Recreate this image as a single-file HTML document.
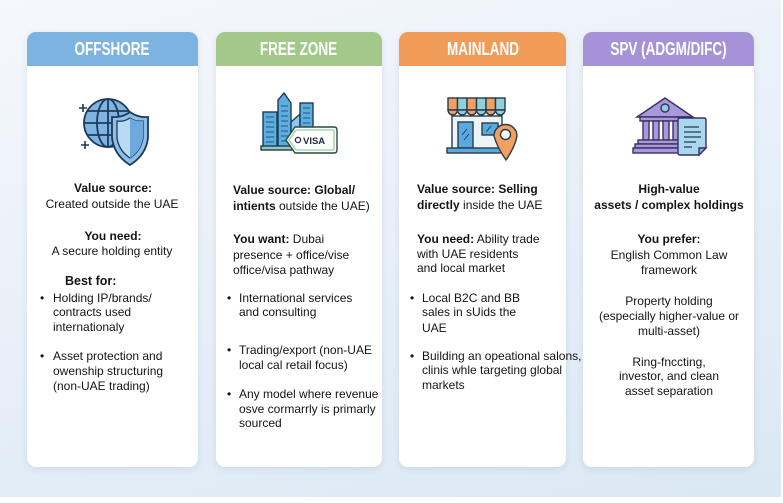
<!DOCTYPE html>
<html><head><meta charset="utf-8">
<style>
*{margin:0;padding:0;box-sizing:border-box}
html,body{width:783px;height:503px;background:#fff;overflow:hidden;font-family:"Liberation Sans",Arial,sans-serif;color:#141414}
#bg{position:absolute;left:0;top:0;width:781px;height:497px;background:linear-gradient(165deg,#f5f8fc 0%,#e9f0f8 45%,#dae8f4 100%)}
.card{position:absolute;top:32px;height:435px;background:#fff;border-radius:9px;box-shadow:0 2px 7px rgba(70,100,140,0.13);overflow:hidden}
.hd{position:absolute;left:0;top:0;width:100%;height:34px;text-align:center;color:#fff;font-weight:bold;font-size:18px;line-height:35px}
.hd span{display:inline-block;transform:scaleX(0.75);white-space:nowrap}
.t{position:absolute;font-size:12px;line-height:15px;white-space:nowrap}
.c{transform:translateX(-50%)}
b{font-weight:bold;font-size:12px}
.bu{position:absolute;font-size:12px;line-height:15px}
svg{position:absolute;left:0;top:0}
</style></head><body>
<div id="bg"></div>

<div class="card" style="left:27px;width:171px"><div class="hd" style="background:#7db3e0"><span>OFFSHORE</span></div></div>
<div class="card" style="left:216px;width:166px"><div class="hd" style="background:#a2c98a"><span>FREE ZONE</span></div></div>
<div class="card" style="left:399px;width:167px"><div class="hd" style="background:#f09b58"><span>MAINLAND</span></div></div>
<div class="card" style="left:583px;width:171px"><div class="hd" style="background:#a693d7"><span>SPV (ADGM/DIFC)</span></div></div>

<svg width="783" height="503" viewBox="0 0 783 503">
 <!-- Icon 1 globe + shield -->
 <g stroke="#1f3a57" stroke-width="1.8" fill="none">
  <circle cx="108" cy="123" r="24" fill="#7fb3e3"/>
  <ellipse cx="108" cy="123" rx="11" ry="24"/>
  <line x1="108" y1="99" x2="108" y2="147"/>
  <line x1="84" y1="123" x2="132" y2="123"/>
  <line x1="87" y1="111" x2="129" y2="111"/>
  <line x1="87" y1="135" x2="129" y2="135"/>
  <path d="M130,112 Q138,118 148,117 L148,138 Q146,155 130,165 Q114,155 112,138 L112,117 Q122,118 130,112 Z" fill="#8cc0ea"/>
  <path d="M130,118 Q136,122 143,121 L143,138 Q141,151 130,158 Q119,151 117,138 L117,121 Q124,122 130,118 Z" fill="#b9daf4" stroke-width="1.3"/>
  <path d="M130,118 L130,158 Q141,151 143,138 L143,121 Q136,122 130,118Z" fill="#6fa8dc" stroke="none"/>
  <path d="M79,108 h8 M83,104 v8 M81,145 h8 M85,141 v8" stroke-width="1.6"/>
 </g>
 <!-- Icon 2 buildings + visa -->
 <g stroke="#1f3a57" stroke-width="1.4">
  <rect x="263" y="112" width="14" height="36" fill="#5aaee0"/>
  <polygon points="278,148 278,100 284,93 291,103 291,148" fill="#5aaee0"/>
  <polygon points="291,122 300,114 300,130 291,132" fill="#8cc8ec"/>
  <rect x="300" y="103" width="13" height="45" fill="#5aaee0"/>
  <rect x="261" y="146" width="40" height="4" fill="#8fd0b0"/>
 </g>
 <g stroke="#1f3a57" stroke-width="0.8" fill="none">
  <path d="M266,117 h8 M266,122 h8 M266,127 h8 M266,132 h8 M266,137 h8 M266,142 h8"/>
  <path d="M281,106 h7 M281,111 h7 M281,116 h7 M281,121 h7 M281,126 h7 M281,131 h7 M281,136 h7 M281,141 h7"/>
  <path d="M303,108 h7 M303,113 h7 M303,118 h7 M303,123 h7"/>
 </g>
 <path d="M295,127 L334,127 Q337,127 337,130 L337,150 Q337,153 334,153 L295,153 L286,140 Z" fill="#fff" stroke="#2c4a3e" stroke-width="1.4"/>
 <path d="M296,130 L334,130 L334,150 L296,150 L289,140 Z" fill="none" stroke="#a8d8b0" stroke-width="1.6"/>
 <circle cx="298" cy="140" r="2.6" fill="none" stroke="#1f2a33" stroke-width="1.3"/>
 <text x="303" y="144" font-family="Liberation Sans, Arial, sans-serif" font-size="9.5" font-weight="bold" fill="#1f2a33">VISA</text>
 <!-- Icon 3 store -->
 <g stroke="#2a3a4a" stroke-width="1.4">
  <rect x="452" y="116" width="50" height="33" fill="#eef3f8"/>
  <rect x="458" y="122" width="15" height="26" fill="#5aaae0"/>
  <rect x="482" y="123" width="16" height="12" fill="#5aaae0"/>
  <rect x="447" y="148" width="57" height="5" fill="#5aaae0"/>
  <rect x="448" y="98" width="9.5" height="12" fill="#f0a060"/>
  <rect x="457.5" y="98" width="9.5" height="12" fill="#8fd0dc"/>
  <rect x="467" y="98" width="9.5" height="12" fill="#f0a060"/>
  <rect x="476.5" y="98" width="9.5" height="12" fill="#8fd0dc"/>
  <rect x="486" y="98" width="9.5" height="12" fill="#f0a060"/>
  <rect x="495.5" y="98" width="9.5" height="12" fill="#8fd0dc"/>
  <path d="M448,110 a4.75,5 0 0 0 9.5,0Z" fill="#f0a060"/>
  <path d="M457.5,110 a4.75,5 0 0 0 9.5,0Z" fill="#8fd0dc"/>
  <path d="M467,110 a4.75,5 0 0 0 9.5,0Z" fill="#f0a060"/>
  <path d="M476.5,110 a4.75,5 0 0 0 9.5,0Z" fill="#8fd0dc"/>
  <path d="M486,110 a4.75,5 0 0 0 9.5,0Z" fill="#f0a060"/>
  <path d="M495.5,110 a4.75,5 0 0 0 9.5,0Z" fill="#8fd0dc"/>
  <path d="M494,136 A11.5,11.5 0 1 1 517,136 Q515,147 506,160 Q497,147 494,136Z" fill="#f0a060"/>
  <circle cx="505.5" cy="134.5" r="5" fill="#fff"/>
 </g>
 <path d="M462,135 l5,-6 M464,140 l5,-6 M486,132 l5,-6" stroke="#1f3a57" stroke-width="0.9"/>
 <!-- Icon 4 bank -->
 <g stroke="#3a3060" stroke-width="1.4">
  <polygon points="637,117 665,98 693,117" fill="#a898dc"/>
  <circle cx="665" cy="108" r="4" fill="#8fd0e0"/>
  <rect x="640" y="117" width="50" height="4" fill="#a898dc"/>
  <rect x="643" y="121" width="6" height="19" fill="#a898dc"/>
  <rect x="653" y="121" width="6" height="19" fill="#a898dc"/>
  <rect x="663" y="121" width="6" height="19" fill="#a898dc"/>
  <rect x="673" y="121" width="6" height="19" fill="#a898dc"/>
  <rect x="638" y="140" width="46" height="4" fill="#a898dc"/>
  <rect x="635" y="144" width="50" height="4" fill="#a898dc"/>
  <rect x="633" y="148" width="52" height="5" fill="#a898dc"/>
  <path d="M680,118 L704,118 Q706,118 706,120 L706,148 L699,155 L680,155 Q678,155 678,153 L678,120 Q678,118 680,118Z" fill="#a8d8f0"/>
  <path d="M706,148 L699,148 L699,155Z" fill="#7fb8dc"/>
 </g>
 <path d="M684,127 h15 M684,132 h17 M684,137 h17 M684,142 h12 M684,147 h8" stroke="#2a3a4a" stroke-width="1.2"/>
</svg>

<!-- Card 1 text -->
<div class="t c" style="left:113px;top:181px"><b>Value source:</b></div>
<div class="t c" style="left:112px;top:197px">Created outside the UAE</div>
<div class="t c" style="left:113px;top:229px"><b>You need:</b></div>
<div class="t c" style="left:112px;top:244px">A secure holding entity</div>
<div class="t" style="left:65px;top:274px"><b style="font-size:12.5px">Best for:</b></div>
<div class="bu" style="left:40px;top:291px">•</div>
<div class="t" style="left:53px;top:291px">Holding IP/brands/</div>
<div class="t" style="left:53px;top:305px">contracts used</div>
<div class="t" style="left:53px;top:320px">internationaly</div>
<div class="bu" style="left:40px;top:349px">•</div>
<div class="t" style="left:53px;top:349px">Asset protection and</div>
<div class="t" style="left:53px;top:364px">owenship structuring</div>
<div class="t" style="left:53px;top:379px">(non-UAE trading)</div>

<!-- Card 2 text -->
<div class="t" style="left:233px;top:183px"><b>Value source: Global/</b></div>
<div class="t" style="left:233px;top:199px"><b>intients</b> outside the UAE)</div>
<div class="t" style="left:233px;top:232px"><b>You want:</b> Dubai</div>
<div class="t" style="left:233px;top:248px">presence + office/vise</div>
<div class="t" style="left:233px;top:263px">office/visa pathway</div>
<div class="bu" style="left:227px;top:291px">•</div>
<div class="t" style="left:239px;top:291px">International services</div>
<div class="t" style="left:239px;top:305px">and consulting</div>
<div class="bu" style="left:227px;top:343px">•</div>
<div class="t" style="left:239px;top:343px">Trading/export (non-UAE</div>
<div class="t" style="left:239px;top:358px">local cal retail focus)</div>
<div class="bu" style="left:227px;top:387px">•</div>
<div class="t" style="left:239px;top:387px">Any model where revenue</div>
<div class="t" style="left:239px;top:402px">osve cormarrly is primarly</div>
<div class="t" style="left:239px;top:416px">sourced</div>

<!-- Card 3 text -->
<div class="t" style="left:417px;top:182px"><b>Value source: Selling</b></div>
<div class="t" style="left:417px;top:198px"><b>directly</b> inside the UAE</div>
<div class="t" style="left:417px;top:232px"><b>You need:</b> Ability trade</div>
<div class="t" style="left:417px;top:247px">with UAE residents</div>
<div class="t" style="left:417px;top:261px">and local market</div>
<div class="bu" style="left:410px;top:291px">•</div>
<div class="t" style="left:422px;top:291px">Local B2C and BB</div>
<div class="t" style="left:422px;top:305px">sales in sUids the</div>
<div class="t" style="left:422px;top:321px">UAE</div>
<div class="bu" style="left:410px;top:349px">•</div>
<div class="t" style="left:422px;top:349px">Building an opeational salons,</div>
<div class="t" style="left:422px;top:363px">clinis whle targeting global</div>
<div class="t" style="left:422px;top:378px">markets</div>

<!-- Card 4 text -->
<div class="t c" style="left:669px;top:182px"><b>High-value</b></div>
<div class="t c" style="left:669px;top:198px"><b>assets / complex holdings</b></div>
<div class="t c" style="left:669px;top:232px"><b>You prefer:</b></div>
<div class="t c" style="left:669px;top:248px">English Common Law</div>
<div class="t c" style="left:669px;top:263px">framework</div>
<div class="t c" style="left:669px;top:294px">Property holding</div>
<div class="t c" style="left:669px;top:309px">(especially higher-value or</div>
<div class="t c" style="left:669px;top:324px">multi-asset)</div>
<div class="t c" style="left:669px;top:355px">Ring-fnccting,</div>
<div class="t c" style="left:669px;top:369px">investor, and clean</div>
<div class="t c" style="left:669px;top:384px">asset separation</div>
</body></html>
